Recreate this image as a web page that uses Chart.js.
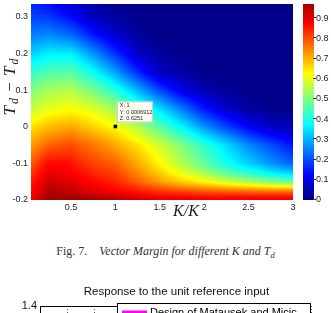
<!DOCTYPE html>
<html lang="en">
<head>
<meta charset="UTF-8">
<title>Vector Margin</title>
<script src="https://cdn.jsdelivr.net/npm/chart.js@4.4.0/dist/chart.umd.min.js"></script>
<style>
    html, body {margin: 0; padding: 0; background: #fff;}
    body {width: 331px; height: 313px; overflow: hidden; position: relative;}
    #heatChart {position: absolute; left: 0; top: 0;}
    #respChart {position: absolute; left: 0; top: 278px;}
    .caption {position: absolute; left: 0; top: 244px; width: 331px; text-align: center;
        font: 12px "Liberation Serif", serif; color: #333; white-space: nowrap;}
    .caption sub {font-size: 8.5px;}
</style>
</head>
<body>
<canvas id="heatChart" width="331" height="218"></canvas>
<div class="caption">Fig. 7.&nbsp;&nbsp;&nbsp; <i>Vector Margin for different K and T<sub>d</sub></i></div>
<canvas id="respChart" width="331" height="200"></canvas>
<script>
// grid: rows = Td - Td^, columns = K/K
var kValues = [0.05, 0.25, 0.5, 0.75, 1.0, 1.25, 1.5, 1.75, 2.0, 2.25, 2.5, 2.75, 3.0];
var tdValues = [-0.2, -0.19, -0.175, -0.15, -0.125, -0.1, -0.05, 0, 0.05, 0.1, 0.15, 0.2, 0.25, 0.3, 0.35];
var vmGrid = [
    [0.90, 0.97, 0.98, 0.97, 0.95, 0.93, 0.91, 0.90, 0.90, 0.89, 0.89, 0.89, 0.88],
    [0.88, 0.96, 0.96, 0.94, 0.92, 0.89, 0.87, 0.87, 0.86, 0.86, 0.86, 0.86, 0.86],
    [0.87, 0.95, 0.93, 0.90, 0.88, 0.85, 0.82, 0.80, 0.78, 0.77, 0.76, 0.75, 0.75],
    [0.85, 0.92, 0.90, 0.87, 0.84, 0.78, 0.72, 0.67, 0.63, 0.58, 0.54, 0.50, 0.47],
    [0.82, 0.90, 0.88, 0.84, 0.81, 0.74, 0.67, 0.60, 0.53, 0.46, 0.41, 0.36, 0.32],
    [0.79, 0.87, 0.86, 0.81, 0.78, 0.71, 0.63, 0.55, 0.47, 0.39, 0.33, 0.27, 0.22],
    [0.72, 0.78, 0.80, 0.76, 0.71, 0.65, 0.58, 0.50, 0.42, 0.34, 0.26, 0.20, 0.14],
    [0.65, 0.69, 0.71, 0.67, 0.625, 0.55, 0.46, 0.37, 0.27, 0.19, 0.12, 0.07, 0.05],
    [0.56, 0.60, 0.62, 0.59, 0.53, 0.44, 0.34, 0.24, 0.14, 0.07, 0.03, 0.01, 0.01],
    [0.50, 0.54, 0.55, 0.49, 0.41, 0.30, 0.19, 0.10, 0.05, 0.02, 0.01, 0.01, 0.01],
    [0.42, 0.45, 0.46, 0.38, 0.28, 0.16, 0.06, 0.03, 0.01, 0.01, 0.01, 0.01, 0.01],
    [0.33, 0.36, 0.36, 0.27, 0.17, 0.07, 0.03, 0.01, 0.01, 0.01, 0.01, 0.01, 0.01],
    [0.25, 0.26, 0.23, 0.15, 0.08, 0.03, 0.01, 0.01, 0.01, 0.01, 0.01, 0.01, 0.01],
    [0.19, 0.18, 0.13, 0.06, 0.03, 0.01, 0.01, 0.01, 0.01, 0.01, 0.01, 0.01, 0.01],
    [0.15, 0.12, 0.07, 0.03, 0.01, 0.01, 0.01, 0.01, 0.01, 0.01, 0.01, 0.01, 0.01]
];
var kTicks = [0.5, 1, 1.5, 2, 2.5, 3];
var tdTicks = [-0.2, -0.1, 0, 0.1, 0.2, 0.3];
var cbTicks = [0, 0.1, 0.2, 0.3, 0.4, 0.5, 0.6, 0.7, 0.8, 0.9];
var tipPoint = {x: 1, y: 0.0006912, z: 0.6251};

// second figure (only its top is visible)
var respTitle = 'Response to the unit reference input';
var respLabels = ['Design of Matausek and Micic'];
var respMatausek = [];

var tickFont = {family: '"Liberation Sans", Arial, sans-serif', size: 9};

// matlab jet
function jet(v) {
    var c = function (x) { return Math.round(Math.max(0, Math.min(1, x)) * 255); };
    return [c(1.5 - Math.abs(4 * v - 3)), c(1.5 - Math.abs(4 * v - 2)), c(1.5 - Math.abs(4 * v - 1))];
}

function findCell(arr, v) {
    var i = 0;
    while (i < arr.length - 2 && v > arr[i + 1]) i++;
    var t = (v - arr[i]) / (arr[i + 1] - arr[i]);
    return [i, Math.max(0, Math.min(1, t))];
}

// shading interp between grid vertices
function vmAt(k, td) {
    var a = findCell(kValues, k), b = findCell(tdValues, td);
    var i = a[0], s = a[1], j = b[0], t = b[1];
    var lo = vmGrid[j][i] * (1 - s) + vmGrid[j][i + 1] * s;
    var hi = vmGrid[j + 1][i] * (1 - s) + vmGrid[j + 1][i + 1] * s;
    return lo * (1 - t) + hi * t;
}

var heatmapPlugin = {
    id: 'heatmap',
    beforeDatasetsDraw: function (chart) {
        var ctx = chart.ctx, a = chart.chartArea;
        var xs = chart.scales.x, ys = chart.scales.y, cs = chart.scales.yc;
        var w = Math.round(a.right - a.left), h = Math.round(a.bottom - a.top);
        var off = document.createElement('canvas');
        off.width = w; off.height = h;
        var octx = off.getContext('2d');
        var img = octx.createImageData(w, h);
        for (var py = 0; py < h; py++) {
            var td = ys.getValueForPixel(a.top + py + 0.5);
            for (var px = 0; px < w; px++) {
                var k = xs.getValueForPixel(a.left + px + 0.5);
                var col = jet(vmAt(k, td));
                var p = (py * w + px) * 4;
                img.data[p] = col[0]; img.data[p + 1] = col[1]; img.data[p + 2] = col[2]; img.data[p + 3] = 255;
            }
        }
        octx.putImageData(img, 0, 0);
        ctx.drawImage(off, a.left, a.top);

        // colorbar
        var cbLeft = a.right + 10, cbW = 11;
        for (var y = Math.floor(cs.top); y < cs.bottom; y++) {
            var c = jet(cs.getValueForPixel(y + 0.5));
            ctx.fillStyle = 'rgb(' + c[0] + ',' + c[1] + ',' + c[2] + ')';
            ctx.fillRect(cbLeft, y, cbW, 1);
        }
        ctx.save();
        ctx.strokeStyle = '#333';
        ctx.lineWidth = 1;
        cbTicks.forEach(function (v) {
            var ty = Math.round(cs.getPixelForValue(v)) - 0.5;
            ctx.beginPath();
            ctx.moveTo(cbLeft + cbW - 1, ty);
            ctx.lineTo(cbLeft + cbW + 2, ty);
            ctx.stroke();
        });
        ctx.restore();
    },
    afterDraw: function (chart) {
        var ctx = chart.ctx, a = chart.chartArea;
        var xs = chart.scales.x, ys = chart.scales.y;

        // datatip box
        var px = xs.getPixelForValue(tipPoint.x), py = ys.getPixelForValue(tipPoint.y);
        var bx = px + 1.5, by = py - 25;
        ctx.save();
        ctx.fillStyle = '#fffff4';
        ctx.strokeStyle = '#c8c8c8';
        ctx.lineWidth = 1;
        ctx.fillRect(bx, by, 36, 21);
        ctx.strokeRect(bx + 0.5, by + 0.5, 35, 20);
        ctx.fillStyle = '#222';
        ctx.font = '5.5px "Liberation Sans", Arial, sans-serif';
        ctx.textBaseline = 'middle';
        ctx.fillText('X: ' + tipPoint.x, bx + 3, by + 4.5);
        ctx.fillText('Y: ' + tipPoint.y, bx + 3, by + 11);
        ctx.fillText('Z: ' + tipPoint.z, bx + 3, by + 17);
        ctx.restore();

        // x label
        ctx.save();
        ctx.fillStyle = '#222';
        ctx.font = 'italic 16px "Liberation Serif", serif';
        ctx.textAlign = 'center';
        ctx.textBaseline = 'alphabetic';
        ctx.fillText('K/K', a.left + 155, a.bottom + 16);
        ctx.restore();

        // y label  T_d - T_d
        ctx.save();
        ctx.translate(15, (a.top + a.bottom) / 2 - 16);
        ctx.rotate(-Math.PI / 2);
        ctx.fillStyle = '#222';
        ctx.textBaseline = 'alphabetic';
        var big = 'italic 17px "Liberation Serif", serif', small = 'italic 12px "Liberation Serif", serif';
        var parts = [['T', big, 0], ['d', small, 3], [' \u2212 ', '17px "Liberation Serif", serif', 0], ['T', big, 0], ['d', small, 3]];
        var gap = 2;
        var total = 0;
        parts.forEach(function (pt) { ctx.font = pt[1]; total += ctx.measureText(pt[0]).width + gap; });
        var x = -total / 2;
        parts.forEach(function (pt) {
            ctx.font = pt[1];
            ctx.fillText(pt[0], x, pt[2]);
            x += ctx.measureText(pt[0]).width + gap;
        });
        ctx.restore();
    }
};

new Chart(document.getElementById('heatChart'), {
    type: 'scatter',
    data: {
        datasets: [{
            label: 'datatip',
            data: [{x: tipPoint.x, y: tipPoint.y}],
            pointStyle: 'rect',
            pointRadius: 2.5,
            backgroundColor: '#000',
            borderColor: '#000',
            borderWidth: 0
        }]
    },
    options: {
        responsive: false,
        animation: false,
        devicePixelRatio: 1,
        layout: {padding: 0},
        plugins: {legend: {display: false}, tooltip: {enabled: false}},
        scales: {
            x: {
                type: 'linear', min: 0.05, max: 3,
                grid: {display: false, drawTicks: false},
                border: {display: false},
                afterBuildTicks: function (s) { s.ticks = kTicks.map(function (v) { return {value: v}; }); },
                afterFit: function (s) { s.height = 18; s.paddingLeft = 0; s.paddingRight = 0; },
                ticks: {padding: 2, font: tickFont, color: '#222', maxRotation: 0, autoSkip: false,
                    callback: function (v) { return String(v); }}
            },
            y: {
                type: 'linear', min: -0.2, max: 0.335,
                grid: {display: false, drawTicks: false},
                border: {display: false},
                afterBuildTicks: function (s) { s.ticks = tdTicks.map(function (v) { return {value: v}; }); },
                afterFit: function (s) { s.width = 31; s.paddingTop = 0; s.paddingBottom = 0; },
                ticks: {padding: 3, font: tickFont, color: '#222', autoSkip: false,
                    callback: function (v) { return String(v); }}
            },
            yc: {
                type: 'linear', position: 'right', min: 0, max: 0.97,
                grid: {display: false, drawTicks: false},
                border: {display: false},
                afterBuildTicks: function (s) { s.ticks = cbTicks.map(function (v) { return {value: v}; }); },
                afterFit: function (s) { s.width = 38; s.paddingTop = 0; s.paddingBottom = 0; },
                ticks: {padding: 23, font: tickFont, color: '#222', autoSkip: false,
                    callback: function (v) { return String(v); }}
            }
        }
    },
    plugins: [heatmapPlugin]
});

var respPlugin = {
    id: 'respDecor',
    afterDraw: function (chart) {
        var ctx = chart.ctx, a = chart.chartArea;
        ctx.save();
        // axes box
        ctx.strokeStyle = '#000';
        ctx.lineWidth = 1;
        ctx.strokeRect(Math.round(a.left) + 0.5, Math.round(a.top) + 0.5, Math.round(a.right - a.left) - 1, Math.round(a.bottom - a.top));
        // title
        ctx.fillStyle = '#111';
        ctx.font = '11.5px "Liberation Sans", Arial, sans-serif';
        ctx.textAlign = 'center';
        ctx.textBaseline = 'middle';
        ctx.fillText(respTitle, (a.left + a.right) / 2 + 1, a.top - 14);
        // legend box, upper right inside the axes
        var lx = Math.round(a.right) - 194, ly = Math.round(a.top) - 3;
        ctx.font = '11px "Liberation Sans", Arial, sans-serif';
        ctx.fillStyle = '#fff';
        ctx.fillRect(lx, ly, 194, 40);
        ctx.strokeRect(lx + 0.5, ly + 0.5, 193, 40);
        chart.data.datasets.forEach(function (ds, i) {
            var yy = ly + 9 + i * 14;
            ctx.strokeStyle = ds.borderColor;
            ctx.lineWidth = 3;
            ctx.beginPath();
            ctx.moveTo(lx + 5, yy);
            ctx.lineTo(lx + 30, yy);
            ctx.stroke();
            ctx.fillStyle = '#000';
            ctx.textAlign = 'left';
            ctx.textBaseline = 'alphabetic';
            ctx.fillText(ds.label, lx + 33, yy + 3.5);
        });
        ctx.restore();
    }
};

new Chart(document.getElementById('respChart'), {
    type: 'line',
    data: {
        datasets: [{
            label: respLabels[0],
            data: respMatausek,
            borderColor: '#ff00ff',
            borderWidth: 3,
            pointRadius: 0
        }]
    },
    options: {
        responsive: false,
        animation: false,
        devicePixelRatio: 1,
        layout: {padding: {top: 28, right: 20, left: 0, bottom: 0}},
        plugins: {legend: {display: false}, tooltip: {enabled: false}},
        scales: {
            x: {
                type: 'linear', min: 0, max: 10,
                ticks: {stepSize: 1, display: false},
                grid: {color: '#555', drawTicks: false},
                border: {display: false, dash: [1, 2]}
            },
            y: {
                type: 'linear', min: 0, max: 1.4,
                ticks: {stepSize: 0.2, padding: 3, color: '#111',
                    font: {family: '"Liberation Sans", Arial, sans-serif', size: 11}},
                grid: {color: '#555', drawTicks: false},
                border: {display: false, dash: [1, 2]},
                afterFit: function (s) { s.width = 40; s.paddingTop = 0; s.paddingBottom = 0; }
            }
        }
    },
    plugins: [respPlugin]
});
</script>
</body>
</html>
